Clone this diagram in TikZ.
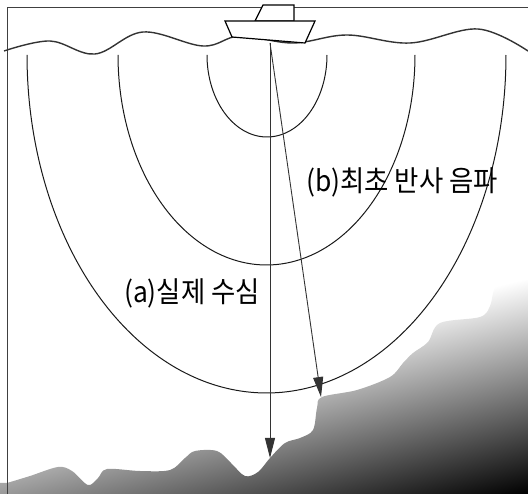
\documentclass[tikz,border=0pt]{standalone}
\usepackage{fontspec}
\newfontfamily\kor{Noto Sans CJK KR}
\usetikzlibrary{arrows.meta}
\begin{document}
\begin{tikzpicture}[x=1pt,y=-1pt,
  frameline/.style={draw=black!75, line width=0.8pt},
  waterline/.style={draw=black!80, line width=1.4pt},
  wavefront/.style={draw=black!90, line width=1pt},
  boatline/.style={draw=black, line width=1.2pt, fill=white, line join=miter},
  ray/.style={draw=black!80, line width=0.9pt, -{Triangle[length=20pt,width=10pt]}},
  textlbl/.style={font=\kor\fontsize{24}{28}\selectfont, inner sep=0pt, text=black,
                  transform shape, xscale=1.1, yscale=1.2}]
\useasboundingbox (0,0) rectangle (528,494);

% sea bed with a diagonal grey-to-black gradient
\begin{scope}
  \clip plot[smooth, tension=0.55] coordinates {
      (7,483) (30,476) (58,467) (72,471) (88,485) (98,478) (107,469)
      (140,471) (170,470) (185,458) (195,451) (217,451) (231,463)
      (245,476) (258,472) (270,458) (285,443) (300,438) (313,430)
      (317,408) (322,397) (357,390) (390,377) (403,363) (413,353)
      (428,342) (440,323) (480,317) (490,306) (494,290) (502,283) (528,280)}
    -- (528,494) -- (0,494) -- (0,483) -- cycle;
  \fill[white] (0,0) rectangle (528,494);
  \begin{scope}[transform canvas={rotate around={13.8:(264,451)}}]
    \shade[top color=white, bottom color=black] (-300,346) rectangle (900,556);
    \fill[black] (-300,556) rectangle (900,900);
  \end{scope}
\end{scope}

% frame
\draw[frameline] (7,494) -- (7,7) -- (528,7);

% spreading sound fronts
\draw[wavefront] plot[domain=180:360, samples=90] ({267+60*cos(\x)},{55-82*sin(\x)});
\draw[wavefront] plot[domain=180:360, samples=120] ({266.5+148.5*cos(\x)},{55-210*sin(\x)});
\draw[wavefront] plot[domain=180:360, samples=160] ({266.5+239.5*cos(\x)},{55-338*sin(\x)});

% sea surface
\draw[waterline] plot[smooth, tension=0.6] coordinates {
  (4,51) (50,41) (95,54) (143,32) (203,46) (240,36) (293,43)
  (347,35) (410,43) (478,29) (528,51)};

% boat
\draw[boatline] (263,5) -- (294,5) -- (294,21) -- (255,21) -- cycle;
\draw[boatline] (225,21) -- (315,21) -- (305,43) -- (232,37) -- cycle;

% transducer and ray end points
\coordinate (src) at (270,43);
\coordinate (depth) at (270,458);
\coordinate (echo) at (321,397);
\draw[ray] (src) -- (depth);
\draw[ray] (src) -- (echo);

% labels
\node[textlbl] (lblb) at (402,182) {(b)최초 반사 음파};
\node[textlbl] (lbla) at (192,293) {(a)실제 수심};
\end{tikzpicture}
\end{document}
